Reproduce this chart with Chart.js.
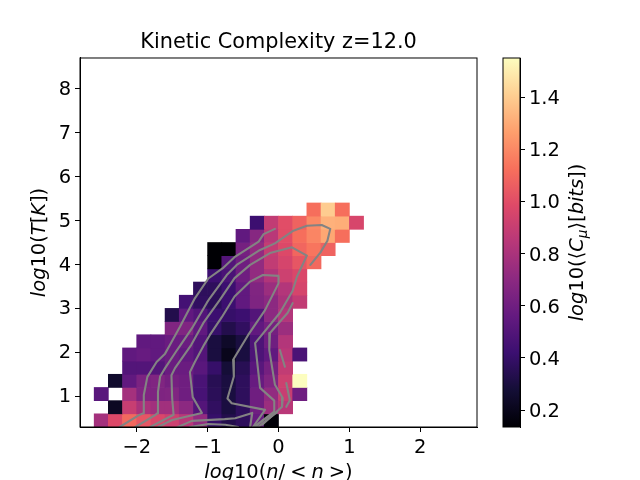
<!DOCTYPE html>
<html>
<head>
    <title>Kinetic Complexity z=12.0</title>
    <script src="https://cdn.jsdelivr.net/npm/chart.js"></script>
    <style>
        body { margin: 0; background: #fff; }
        #wrap { position: relative; width: 640px; height: 480px; overflow: hidden; }
        canvas { position: absolute; top: 0; }
    </style>
</head>
<body>
    <div id="wrap">
        <canvas id="main" width="640" height="480" style="left:0"></canvas>
        <canvas id="bar" width="150" height="480" style="left:490px"></canvas>
    </div>
    <script>
        const _ = null;
        const titleText = 'Kinetic Complexity z=12.0';
        const xTickValues = [-2, -1, 0, 1, 2];
        const yTickValues = [1, 2, 3, 4, 5, 6, 7, 8];
        const colorTickValues = [0.2, 0.4, 0.6, 0.8, 1.0, 1.2, 1.4];
        const xRange = [-2.8, 2.8];
        const yRange = [0.3, 8.7];
        const colorRange = [0.135, 1.55];
        const binW = 0.2;
        const binH = 0.3;

        // log10(C) per cell, one row per T bin, bottom row first, 28 columns
        const row0  = [_, .78, .98, 1.10, 1.03, .97, .92, .85, .72, .40, .33, .37, .57, .15, _, _, _, _, _, _, _, _, _, _, _, _, _, _];
        const row1  = [_, _, .22, .90, .80, .77, .77, .70, .50, .38, .30, .37, .60, .75, .85, _, _, _, _, _, _, _, _, _, _, _, _, _];
        const row2  = [_, .52, _, .78, .66, .65, .66, .60, .46, .36, .30, .37, .60, .72, .90, .60, _, _, _, _, _, _, _, _, _, _, _, _];
        const row3  = [_, _, .25, .55, .64, .66, .62, .60, .47, .35, .30, .37, .57, .66, .92, 1.55, _, _, _, _, _, _, _, _, _, _, _, _];
        const row4  = [_, _, _, .50, .50, .50, .58, .58, .52, .40, .28, .35, .52, .62, .88, _, _, _, _, _, _, _, _, _, _, _, _, _];
        const row5  = [_, _, _, .55, .57, .55, .58, .55, .50, .30, .20, .30, .48, .55, .85, .47, _, _, _, _, _, _, _, _, _, _, _, _];
        const row6  = [_, _, _, _, .55, .55, .58, .58, .50, .30, .24, .30, .48, .60, .83, _, _, _, _, _, _, _, _, _, _, _, _, _];
        const row7  = [_, _, _, _, _, _, .66, .66, .55, .40, .33, .38, .55, .62, .75, _, _, _, _, _, _, _, _, _, _, _, _, _];
        const row8  = [_, _, _, _, _, _, .33, .55, .50, .42, .40, .42, .50, .70, .83, _, _, _, _, _, _, _, _, _, _, _, _, _];
        const row9  = [_, _, _, _, _, _, _, .45, .38, .36, .42, .55, .65, .70, .80, .88, _, _, _, _, _, _, _, _, _, _, _, _];
        const row10 = [_, _, _, _, _, _, _, _, .37, .37, .42, .55, .66, .75, .83, .95, _, _, _, _, _, _, _, _, _, _, _, _];
        const row11 = [_, _, _, _, _, _, _, _, _, .42, .47, .60, .72, .82, .92, .97, _, _, _, _, _, _, _, _, _, _, _, _];
        const row12 = [_, _, _, _, _, _, _, _, _, .135, .50, .60, .72, .88, .95, 1.03, 1.10, _, _, _, _, _, _, _, _, _, _, _];
        const row13 = [_, _, _, _, _, _, _, _, _, .135, .135, .62, .72, .89, .98, 1.09, 1.14, 1.08, _, _, _, _, _, _, _, _, _, _];
        const row14 = [_, _, _, _, _, _, _, _, _, _, _, .55, .68, .85, 1.00, 1.12, 1.19, 1.29, 1.12, _, _, _, _, _, _, _, _, _];
        const row15 = [_, _, _, _, _, _, _, _, _, _, _, _, .42, .88, 1.00, 1.08, 1.20, 1.32, 1.31, .96, _, _, _, _, _, _, _, _];
        const row16 = [_, _, _, _, _, _, _, _, _, _, _, _, _, _, _, _, 1.12, 1.40, 1.12, _, _, _, _, _, _, _, _, _];
        const grid = [row0, row1, row2, row3, row4, row5, row6, row7, row8, row9, row10, row11, row12, row13, row14, row15, row16];

        // contours in data units
        const lineAx = [-2.24, -1.98, -1.91, -1.90, -1.85, -1.72, -1.60, -1.53, -1.39, -1.18, -.99, -.79, -.61, -.28, -.21, -.05];
        const lineAy = [.30, .56, .61, 1.03, 1.44, 1.78, 1.97, 2.17, 2.58, 3.23, 3.68, 3.91, 4.18, 4.52, 4.69, 4.81];
        const lineBx = [-2.02, -1.74, -1.71, -1.70, -1.67, -1.60, -1.44, -1.38, -1.22, -1.01, -.97, -.73, -.59, -.26, -.05, .21, .40, .61, .73, .69, .59, .45];
        const lineBy = [.30, .57, .61, 1.10, 1.45, 1.64, 2.03, 2.17, 2.55, 3.13, 3.23, 3.76, 3.99, 4.33, 4.48, 4.77, 4.88, 4.90, 4.81, 4.54, 4.27, 3.99];
        const lineCx = [-1.81, -1.48, -1.50, -1.51, -1.46, -1.23, -1.06, -.83, -.62, -.40, -.12, .19, .40, .26, .20, .02, -.33, -.26, -.06, -.06, -.22, -.33];
        const lineCy = [.30, .58, .95, 1.48, 1.64, 2.17, 2.67, 3.19, 3.69, 3.99, 4.26, 4.39, 4.20, 3.72, 3.40, 2.90, 2.21, 1.19, .90, .65, .46, .30];
        const lineDx = [-1.70, -1.50, -1.08, -1.21, -1.25, -1.18, -1.05, -.97, -.80, -.62, -.40, -.22, 0, 0, -.19, -.43, -.64, -.63, -.72, -.66, -.19, -.36];
        const lineDy = [.30, .46, .62, .98, 1.55, 1.78, 2.17, 2.39, 2.80, 3.27, 3.61, 3.76, 3.74, 3.57, 2.96, 2.39, 1.83, 1.45, .95, .84, .69, .30];
        const lineEx = [.20, .13, -.12, -.13, -.05, .06, .05, -.23];
        const lineEy = [3.12, 2.90, 2.44, 2.05, 1.26, .96, .76, .35];
        const lineFx = [.02, .09];
        const lineFy = [2.05, 1.67];
        const lineGx = [.11, .16, .11];
        const lineGy = [1.30, .91, .76];
        const lineHx = [-1.42, -1.22, -.76, -.61, -.37, -.40];
        const lineHy = [.30, .44, .48, .50, .62, .30];
        const lineIx = [-1.25, -.99, -.75, -.57];
        const lineIy = [.30, .37, .35, .30];
        const lineJx = [-.08, -.36];
        const lineJy = [.60, .30];
        const lineKx = [-.02, -.29];
        const lineKy = [.64, .30];
        const contours = [
            [lineAx, lineAy], [lineBx, lineBy], [lineCx, lineCy], [lineDx, lineDy], [lineEx, lineEy], [lineFx, lineFy],
            [lineGx, lineGy], [lineHx, lineHy], [lineIx, lineIy], [lineJx, lineJy], [lineKx, lineKy]
        ];

        // matplotlib magma, 11 stops
        const magma = ['#000004', '#140e36', '#3b0f70', '#641a80', '#8c2981', '#b73779', '#de4968', '#f7705c', '#fe9f6d', '#fecf92', '#fcfdbf'];

        function colorFor(v) {
            let t = (v - colorRange[0]) / (colorRange[1] - colorRange[0]);
            t = Math.min(1, Math.max(0, t)) * (magma.length - 1);
            const i = Math.min(magma.length - 2, Math.floor(t));
            const a = parseInt(magma[i].slice(1), 16), b = parseInt(magma[i + 1].slice(1), 16);
            const mix = s => Math.round(((a >> s) & 255) * (1 - (t - i)) + ((b >> s) & 255) * (t - i));
            return `rgb(${mix(16)},${mix(8)},${mix(0)})`;
        }

        const fontSize = 19.44;
        const titleSize = 20.83;
        Chart.defaults.font.family = '"DejaVu Sans"';
        Chart.defaults.font.size = fontSize;
        Chart.defaults.color = '#000';

        // mathtext labels have mixed italic and upright parts, so they are drawn piece by piece
        function drawRuns(ctx, runs, cx, cy, angle) {
            const fontOf = r => `${r.i ? 'italic ' : ''}${fontSize * (r.sub ? 0.7 : 1)}px "DejaVu Sans"`;
            let total = 0;
            runs.forEach(r => { ctx.font = fontOf(r); total += ctx.measureText(r.t).width + (r.gap || 0); });
            ctx.save();
            ctx.translate(cx, cy);
            ctx.rotate(angle);
            ctx.fillStyle = '#000';
            ctx.textBaseline = 'alphabetic';
            ctx.textAlign = 'left';
            let x = -total / 2;
            runs.forEach(r => {
                ctx.font = fontOf(r);
                ctx.fillText(r.t, x, r.sub ? 4 : 0);
                x += ctx.measureText(r.t).width + (r.gap || 0);
            });
            ctx.restore();
        }

        const xLabelRuns = [{t: 'log', i: 1}, {t: '10('}, {t: 'n', i: 1}, {t: '/', gap: 5}, {t: '<', gap: 5}, {t: 'n', i: 1, gap: 5}, {t: '>'}, {t: ')'}];
        const yLabelRuns = [{t: 'log', i: 1}, {t: '10('}, {t: 'T', i: 1}, {t: '['}, {t: 'K', i: 1}, {t: '])'}];
        const colorLabelRuns = [{t: 'log', i: 1}, {t: '10(\u27e8'}, {t: 'C', i: 1}, {t: '\u03bc', i: 1, sub: 1}, {t: '\u27e9['}, {t: 'bits', i: 1}, {t: '])'}];

        const framePlugin = {
            id: 'frame',
            afterDraw(chart) {
                const a = chart.chartArea, ctx = chart.ctx;
                ctx.save();
                ctx.strokeStyle = '#000';
                ctx.lineWidth = 1;
                ctx.strokeRect(a.left, a.top, a.right - a.left, a.bottom - a.top);
                ctx.restore();
            }
        };

        const cells = [];
        grid.forEach((row, k) => row.forEach((v, j) => {
            if (v !== null) {
                const lo = yRange[0] + k * binH;
                cells.push({x: xRange[0] + (j + 0.5) * binW, y: [lo, lo + binH], v: v});
            }
        }));

        const datasets = [{
            type: 'bar',
            data: cells,
            order: 2,
            barPercentage: 1,
            categoryPercentage: 1,
            backgroundColor: c => c.raw ? colorFor(c.raw.v) : '#000'
        }];
        contours.forEach(([xs, ys]) => datasets.push({
            type: 'scatter',
            showLine: true,
            order: 1,
            data: xs.map((x, i) => ({x: x, y: ys[i]})),
            borderColor: '#838383',
            borderWidth: 2.1,
            pointRadius: 0,
            borderCapStyle: 'round',
            borderJoinStyle: 'round'
        }));

        new Chart(document.getElementById('main'), {
            type: 'bar',
            data: {datasets: datasets},
            plugins: [framePlugin, {
                id: 'labels',
                afterDraw(chart) {
                    drawRuns(chart.ctx, xLabelRuns, 278.5, 478, 0);
                    drawRuns(chart.ctx, yLabelRuns, 45, 242.5, -Math.PI / 2);
                }
            }],
            options: {
                responsive: false,
                animation: false,
                layout: {padding: {left: 0, top: 0, right: 163, bottom: 0}},
                plugins: {
                    legend: {display: false},
                    tooltip: {enabled: false},
                    title: {
                        display: true,
                        text: titleText,
                        fullSize: false,
                        font: {size: titleSize, weight: 'normal'},
                        color: '#000',
                        padding: {top: 30.5, bottom: 2.5}
                    }
                },
                scales: {
                    x: {
                        type: 'linear',
                        min: xRange[0],
                        max: xRange[1],
                        offset: false,
                        grid: {display: true, drawOnChartArea: false, tickLength: 5, tickColor: '#000', offset: false},
                        border: {color: '#000'},
                        afterBuildTicks: s => { s.ticks = xTickValues.map(v => ({value: v})); },
                        afterFit: s => { s.height = 53; },
                        ticks: {
                            autoSkip: false,
                            maxRotation: 0,
                            padding: 4,
                            callback: v => String(v).replace('-', '\u2212')
                        }
                    },
                    y: {
                        type: 'linear',
                        min: yRange[0],
                        max: yRange[1],
                        grid: {display: true, drawOnChartArea: false, tickLength: 5, tickColor: '#000'},
                        border: {color: '#000'},
                        afterBuildTicks: s => { s.ticks = yTickValues.map(v => ({value: v})); },
                        afterFit: s => { s.width = 80; },
                        ticks: {autoSkip: false, padding: 4, labelOffset: 1, callback: v => String(v)}
                    }
                }
            }
        });

        new Chart(document.getElementById('bar'), {
            type: 'bar',
            data: {
                labels: [''],
                datasets: [{
                    data: [colorRange],
                    barPercentage: 1,
                    categoryPercentage: 1,
                    backgroundColor: c => {
                        const a = c.chart.chartArea;
                        if (!a) return '#000';
                        const g = c.chart.ctx.createLinearGradient(0, a.bottom, 0, a.top);
                        magma.forEach((col, i) => g.addColorStop(i / (magma.length - 1), col));
                        return g;
                    }
                }]
            },
            plugins: [framePlugin, {
                id: 'labels',
                afterDraw(chart) {
                    drawRuns(chart.ctx, colorLabelRuns, 93, 242.5, -Math.PI / 2);
                }
            }],
            options: {
                responsive: false,
                animation: false,
                layout: {padding: {left: 13, top: 58, right: 0, bottom: 53}},
                plugins: {legend: {display: false}, tooltip: {enabled: false}},
                scales: {
                    x: {display: false},
                    y: {
                        type: 'linear',
                        position: 'right',
                        min: colorRange[0],
                        max: colorRange[1],
                        grid: {display: true, drawOnChartArea: false, tickLength: 5, tickColor: '#000'},
                        border: {color: '#000'},
                        afterBuildTicks: s => { s.ticks = colorTickValues.map(v => ({value: v})); },
                        afterFit: s => { s.width = 120; },
                        ticks: {autoSkip: false, padding: 4, labelOffset: 2, callback: v => Number(v).toFixed(1)}
                    }
                }
            }
        });
    </script>
</body>
</html>
